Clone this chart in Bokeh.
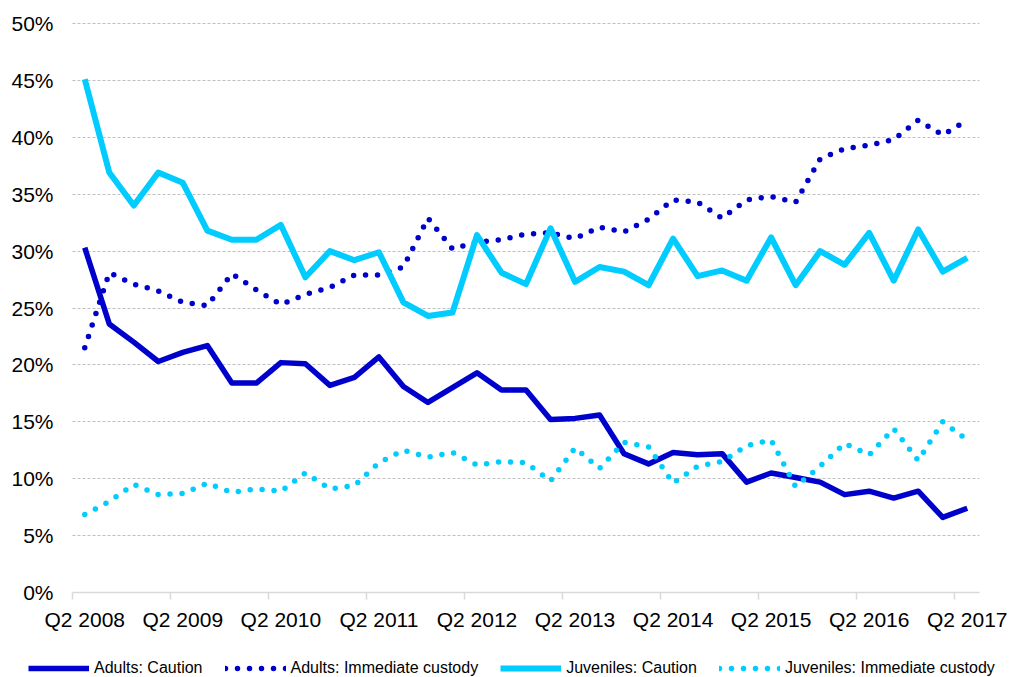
from bokeh.plotting import figure
from bokeh.models import (Range1d, FixedTicker, PrintfTickFormatter, Legend, LegendItem,
                          ColumnDataSource)
from bokeh.embed import file_html
from bokeh.resources import INLINE

# Quarterly categories: Q2 2008 ... Q2 2017 (37 quarters)
quarters = []
for yr in range(2008, 2018):
    for q in (1, 2, 3, 4):
        if (yr == 2008 and q < 2) or (yr == 2017 and q > 2):
            continue
        quarters.append(f"Q{q} {yr}")
x_idx = list(range(len(quarters)))

tick_labels = ["Q2 2008", "Q2 2009", "Q2 2010", "Q2 2011", "Q2 2012",
               "Q2 2013", "Q2 2014", "Q2 2015", "Q2 2016", "Q2 2017"]
y_ticks = [0, 5, 10, 15, 20, 25, 30, 35, 40, 45, 50]

# Values in percent
adults_caution = [30.3, 23.6, 22.0, 20.3, 21.1, 21.7, 18.4, 18.4, 20.2, 20.1,
                  18.2, 18.9, 20.7, 18.1, 16.7, 18.0, 19.3, 17.8, 17.8, 15.2,
                  15.3, 15.6, 12.2, 11.3, 12.3, 12.1, 12.2, 9.7, 10.5, 10.1,
                  9.7, 8.6, 8.9, 8.3, 8.9, 6.6, 7.4]
adults_custody = [21.5, 28.1, 27.1, 26.5, 25.5, 25.2, 28.0, 26.6, 25.3, 26.2,
                  26.8, 27.9, 27.9, 28.6, 32.9, 30.2, 30.8, 31.0, 31.5, 31.6,
                  31.1, 32.1, 31.7, 32.8, 34.5, 34.3, 32.9, 34.5, 34.8, 34.3,
                  38.1, 39.0, 39.3, 39.8, 41.5, 40.2, 41.5]
juveniles_caution = [45.1, 36.9, 34.0, 36.9, 36.0, 31.8, 31.0, 31.0, 32.3, 27.7,
                     30.0, 29.2, 29.9, 25.5, 24.3, 24.6, 31.4, 28.1, 27.1, 32.0,
                     27.3, 28.6, 28.2, 27.0, 31.1, 27.8, 28.3, 27.4, 31.2, 27.0,
                     30.0, 28.8, 31.6, 27.4, 31.9, 28.2, 29.4]
juveniles_custody = [6.85, 8.0, 9.5, 8.6, 8.7, 9.6, 8.8, 9.1, 8.9, 10.5,
                     9.1, 9.4, 11.4, 12.5, 11.9, 12.3, 11.2, 11.5, 11.4, 9.8,
                     12.7, 10.9, 13.2, 12.8, 9.6, 11.1, 11.5, 12.9, 13.4, 9.3,
                     11.1, 13.1, 12.1, 14.4, 11.6, 15.0, 13.4]

series_names = ["Adults: Caution", "Adults: Immediate custody",
                "Juveniles: Caution", "Juveniles: Immediate custody"]

DARK = "#0000CC"
CYAN = "#00CCFF"
FONT = "Liberation Sans"

# Pixel layout of the plotting area inside a 1013 x 677 canvas
W, H = 1013, 677
PL, PR, PT, PB = 72, 979, 23, 592
n = len(quarters)
x_lo, x_hi = -0.5, n - 0.5
y_lo, y_hi = 0, 50
sx = (PR - PL) / (x_hi - x_lo)
sy = (PB - PT) / (y_hi - y_lo)
x_range = Range1d(x_lo - PL / sx, x_hi + (W - PR) / sx)
y_range = Range1d(y_lo - (H - PB) / sy, y_hi + PT / sy)

p = figure(width=W, height=H, output_backend="svg", toolbar_location=None,
           x_range=x_range, y_range=y_range, min_border=0)
p.outline_line_color = None
p.background_fill_color = "white"
p.border_fill_color = "white"

src = ColumnDataSource(dict(x=x_idx, ac=adults_caution, ai=adults_custody,
                            jc=juveniles_caution, ji=juveniles_custody))

styles = [dict(line_color=DARK, line_width=5.5, line_join="round"),
          dict(line_color=DARK, line_width=5.5, line_dash="0 12", line_cap="round"),
          dict(line_color=CYAN, line_width=6, line_join="round"),
          dict(line_color=CYAN, line_width=5.5, line_dash="0 12", line_cap="round")]
cols = ["ac", "ai", "jc", "ji"]
renderers = [p.line("x", c, source=src, **st) for c, st in zip(cols, styles)]

# X axis pinned at 0%
label_pos = list(range(0, n, 4))
xa = p.xaxis[0]
xa.fixed_location = y_lo
xa.bounds = (x_lo, x_hi)
xa.ticker = FixedTicker(ticks=label_pos,
                        minor_ticks=[i - 0.5 for i in range(0, n, 4)])
xa.major_label_overrides = {pos: lab for pos, lab in zip(label_pos, tick_labels)}
xa.major_tick_line_color = None
xa.major_tick_out = 0
xa.major_tick_in = 0
xa.minor_tick_line_color = "#D9D9D9"
xa.minor_tick_line_width = 1.5
xa.minor_tick_out = 7
xa.minor_tick_in = 0
xa.axis_line_color = "#D9D9D9"
xa.axis_line_width = 1.5
xa.major_label_text_font = FONT
xa.major_label_text_font_size = "21px"
xa.major_label_text_color = "#000000"
xa.major_label_standoff = 8
p.xgrid.grid_line_color = None

# Y axis pinned at the left edge of the plotting area
ya = p.yaxis[0]
ya.fixed_location = x_lo
ya.bounds = (y_lo, y_hi)
ya.ticker = FixedTicker(ticks=y_ticks)
ya.formatter = PrintfTickFormatter(format="%d%%")
ya.axis_line_color = None
ya.major_tick_line_color = None
ya.minor_tick_line_color = None
ya.major_tick_out = 0
ya.major_label_text_font = FONT
ya.major_label_text_font_size = "21px"
ya.major_label_text_color = "#000000"
ya.major_label_standoff = 19
yg = p.ygrid[0]
yg.ticker = FixedTicker(ticks=y_ticks[1:])
yg.cross_bounds = (x_lo, x_hi)
yg.grid_line_color = "#BFBFBF"
yg.grid_line_dash = "3 2"
yg.grid_line_width = 1

legend = Legend(items=[LegendItem(label=nm, renderers=[r])
                       for nm, r in zip(series_names, renderers)],
                orientation="horizontal", location=(28, 0),
                glyph_width=61, glyph_height=18, label_height=18,
                label_standoff=5, spacing=22, padding=0, margin=0,
                label_text_font=FONT, label_text_font_size="16px",
                label_text_color="#000000",
                background_fill_alpha=0, border_line_color=None)
p.add_layout(legend, "center")

open("out.html", "w").write(file_html(p, INLINE))
